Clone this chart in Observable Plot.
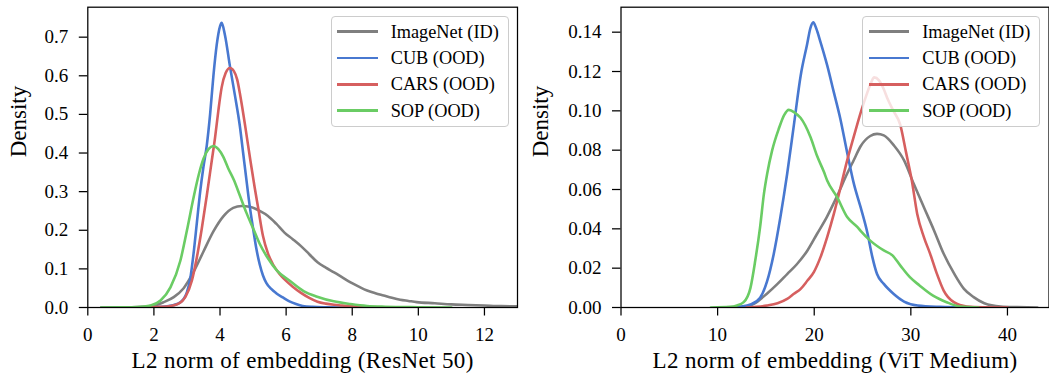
<!DOCTYPE html>
<html>
<head>
<meta charset="utf-8">
<script src="https://cdn.jsdelivr.net/npm/d3@7"></script>
<script src="https://cdn.jsdelivr.net/npm/@observablehq/plot@0.6"></script>
<style>
  html, body { margin: 0; padding: 0; background: #fff; }
  #wrap { position: relative; width: 1049px; height: 373px; overflow: hidden; font-family: "Liberation Serif", serif; }
  .panel { position: absolute; top: 0; }
  .xlab text { letter-spacing: 0.37px; }
  .legend { position: absolute; top: 16px; width: 178.3px; height: 111.3px; box-sizing: border-box;
            background: rgba(255,255,255,0.8); border: 1.2px solid #cccccc; border-radius: 4px; }
  .row { position: absolute; left: 0; height: 26.2px; width: 100%; }
  .sw { position: absolute; left: 5.6px; width: 40.7px; height: 2.7px; top: 11.75px; }
  .lab { position: absolute; left: 59px; top: 0; height: 26.2px; line-height: 26.2px; font-size: 18.3px; color: #000; white-space: nowrap; }
</style>
</head>
<body>
<div id="wrap"></div>
<script>
// ---------- data ----------
const seriesNames = ["ImageNet (ID)", "CUB (OOD)", "CARS (OOD)", "SOP (OOD)"];
const seriesColors = ["#7f7f7f", "#4878d0", "#d65f5f", "#6acc64"];

// Left panel: L2 norm of embedding (ResNet 50)
const r50ImagenetX = [0.4, 1.0, 1.5, 2.0, 2.3, 2.6, 2.9, 3.2, 3.5, 3.8, 4.1, 4.4, 4.65, 4.9, 5.2, 5.45, 5.7, 5.95, 6.2, 6.45, 6.7, 6.95, 7.2, 7.45, 7.7, 7.95, 8.2, 8.45, 8.7, 8.95, 9.2, 9.45, 9.7, 9.95, 10.5, 11.0, 11.5, 12.0, 12.5, 13.0];
const r50ImagenetD = [0, 0.0003, 0.001, 0.005, 0.014, 0.027, 0.05, 0.092, 0.145, 0.197, 0.236, 0.258, 0.263, 0.261, 0.25, 0.237, 0.217, 0.194, 0.177, 0.159, 0.138, 0.117, 0.103, 0.091, 0.078, 0.065, 0.054, 0.044, 0.037, 0.031, 0.025, 0.02, 0.017, 0.014, 0.011, 0.008, 0.0065, 0.005, 0.0035, 0.003];
const r50CubX = [0.8, 1.5, 2.0, 2.4, 2.7, 2.9, 3.0, 3.1, 3.2, 3.3, 3.4, 3.5, 3.6, 3.7, 3.8, 3.9, 4.0, 4.05, 4.15, 4.3, 4.45, 4.6, 4.7, 4.8, 4.9, 5.0, 5.1, 5.2, 5.3, 5.4, 5.55, 5.7, 5.9, 6.1, 6.3, 6.5, 6.8, 7.2, 7.8];
const r50CubD = [0, 0.0002, 0.001, 0.003, 0.009, 0.022, 0.04, 0.075, 0.14, 0.22, 0.30, 0.365, 0.42, 0.50, 0.60, 0.68, 0.728, 0.737, 0.705, 0.625, 0.55, 0.47, 0.40, 0.33, 0.262, 0.205, 0.152, 0.112, 0.083, 0.064, 0.048, 0.037, 0.026, 0.016, 0.009, 0.004, 0.0015, 0.0005, 0];
const r50CarsX = [1.0, 1.8, 2.2, 2.5, 2.75, 2.95, 3.15, 3.3, 3.45, 3.6, 3.75, 3.85, 3.95, 4.05, 4.17, 4.3, 4.42, 4.52, 4.62, 4.77, 4.92, 5.05, 5.15, 5.3, 5.45, 5.6, 5.8, 6.0, 6.2, 6.45, 6.7, 6.95, 7.2, 7.45, 7.7, 8.0, 8.5, 9.5];
const r50CarsD = [0, 0.0003, 0.0015, 0.004, 0.01, 0.027, 0.07, 0.13, 0.205, 0.29, 0.38, 0.44, 0.51, 0.57, 0.607, 0.62, 0.612, 0.59, 0.545, 0.465, 0.38, 0.31, 0.26, 0.185, 0.14, 0.112, 0.087, 0.069, 0.054, 0.038, 0.025, 0.015, 0.01, 0.007, 0.005, 0.003, 0.001, 0];
const r50SopX = [0.4, 1.0, 1.5, 1.9, 2.2, 2.5, 2.8, 3.0, 3.2, 3.36, 3.5, 3.65, 3.8, 3.95, 4.1, 4.25, 4.42, 4.6, 4.8, 5.0, 5.2, 5.43, 5.73, 6.13, 6.54, 6.94, 7.44, 7.95, 8.45, 9.0, 10.0, 11.0];
const r50SopD = [0, 0.0003, 0.001, 0.005, 0.018, 0.052, 0.121, 0.2, 0.285, 0.345, 0.385, 0.41, 0.418, 0.41, 0.39, 0.36, 0.33, 0.29, 0.245, 0.205, 0.165, 0.13, 0.095, 0.068, 0.042, 0.028, 0.016, 0.009, 0.004, 0.002, 0.0007, 0];

// Right panel: L2 norm of embedding (ViT Medium)
const vitImagenetX = [10, 12.7, 13.75, 15.1, 16.2, 17.2, 18.2, 19.3, 20.3, 21.3, 22.4, 23.4, 24.1, 24.8, 25.8, 26.5, 27.2, 28.25, 29.3, 30.3, 31.35, 32.4, 33.4, 34.5, 35.5, 36.5, 37.6, 39.3, 41, 43.1];
const vitImagenetD = [0, 0.0003, 0.0019, 0.007, 0.012, 0.017, 0.022, 0.029, 0.0375, 0.046, 0.057, 0.068, 0.075, 0.082, 0.0872, 0.0883, 0.0875, 0.0824, 0.0748, 0.0629, 0.051, 0.0392, 0.0273, 0.0171, 0.0095, 0.0053, 0.0022, 0.0005, 0.0002, 0];
const vitCubX = [11, 12.4, 13.4, 14.4, 15.1, 15.8, 16.5, 17.2, 17.9, 18.6, 19.27, 19.6, 19.9, 20.2, 20.65, 21.35, 22.0, 22.7, 23.4, 24.1, 24.8, 25.5, 26.0, 26.5, 27.2, 28.2, 29.3, 30.7, 33, 36];
const vitCubD = [0, 0.0005, 0.0015, 0.005, 0.013, 0.027, 0.046, 0.068, 0.093, 0.118, 0.134, 0.142, 0.145, 0.142, 0.135, 0.123, 0.11, 0.096, 0.079, 0.063, 0.051, 0.038, 0.026, 0.017, 0.012, 0.007, 0.003, 0.001, 0.0003, 0];
const vitCarsX = [13, 15.1, 16.2, 17.2, 17.9, 18.6, 19.3, 19.96, 20.65, 21.34, 22.03, 22.72, 23.41, 24.1, 24.8, 25.4, 25.9, 26.2, 26.7, 27.2, 27.6, 28.2, 28.9, 29.5, 30.1, 30.66, 31.35, 32.0, 32.7, 33.4, 34.45, 35.8, 37.5, 40];
const vitCarsD = [0, 0.001, 0.0022, 0.0044, 0.007, 0.0095, 0.0137, 0.018, 0.0256, 0.0358, 0.0476, 0.061, 0.0748, 0.087, 0.099, 0.108, 0.1145, 0.117, 0.1155, 0.111, 0.106, 0.1, 0.093, 0.079, 0.0646, 0.0476, 0.0358, 0.0273, 0.0171, 0.0086, 0.0027, 0.0005, 0.0001, 0];
const vitSopX = [9.3, 11.3, 12.0, 12.7, 13.4, 13.9, 14.4, 14.8, 15.13, 15.65, 16.34, 16.9, 17.37, 18.0, 18.58, 19.62, 20.3, 21.0, 21.34, 22.38, 23.41, 24.45, 24.8, 25.8, 27.2, 28.1, 28.9, 29.9, 30.9, 32.3, 33.7, 35.1, 37];
const vitSopD = [0, 0.0003, 0.001, 0.0027, 0.01, 0.024, 0.041, 0.058, 0.068, 0.08, 0.091, 0.098, 0.1005, 0.099, 0.0965, 0.0866, 0.077, 0.069, 0.0646, 0.056, 0.046, 0.041, 0.039, 0.034, 0.029, 0.0265, 0.0214, 0.0154, 0.0112, 0.006, 0.0027, 0.0005, 0];

const r50XTicks = [0, 2, 4, 6, 8, 10, 12];
const r50YTicks = [0, 0.1, 0.2, 0.3, 0.4, 0.5, 0.6, 0.7];
const vitXTicks = [0, 10, 20, 30, 40];
const vitYTicks = [0, 0.02, 0.04, 0.06, 0.08, 0.10, 0.12, 0.14];
const r50XLabel = "L2 norm of embedding (ResNet 50)";
const vitXLabel = "L2 norm of embedding (ViT Medium)";
const yLabel = "Density";

// ---------- build ----------
function toRows(pairs) {
  return pairs.flatMap(([name, xs, ds]) => xs.map((x, i) => ({name, x, d: ds[i]})));
}

function panel(o) {
  return Plot.plot({
    width: o.width, height: 373,
    marginLeft: o.marginLeft, marginRight: o.marginRight, marginTop: 6.7, marginBottom: 66,
    style: {fontFamily: "'Liberation Serif', serif", fontSize: "19px", color: "#000", background: "transparent", overflow: "visible"},
    x: {domain: o.xDomain, label: null},
    y: {domain: o.yDomain, label: null},
    color: {domain: seriesNames, range: seriesColors},
    marks: [
      Plot.line(o.rows, {x: "x", y: "d", z: "name", stroke: "name", strokeWidth: 2.6, curve: "monotone-x", clip: true}),
      Plot.frame({stroke: "#000", strokeWidth: 1.25}),
      Plot.axisX({ticks: o.xTicks, tickSize: 8.5, tickPadding: 11, strokeWidth: 1.25, label: null, tickFormat: d3.format("d")}),
      Plot.axisY({ticks: o.yTicks, tickSize: 8.5, tickPadding: 11, strokeWidth: 1.25, label: null, tickFormat: d3.format(o.yFmt)}),
      Plot.text([o.xLabel], {text: d => d, frameAnchor: "bottom", dy: 60.5, lineAnchor: "bottom", fontSize: 23, className: "xlab"}),
      Plot.text([yLabel], {text: d => d, frameAnchor: "left", dx: o.yLabelDx, rotate: -90, fontSize: 23, className: "ylab"})
    ]
  });
}

const wrap = document.getElementById("wrap");

const left = panel({
  width: 530, marginLeft: 87.3, marginRight: 13,
  xDomain: [0, 13], yDomain: [0, 0.7776], xTicks: r50XTicks, yTicks: r50YTicks, yFmt: ".1f",
  xLabel: r50XLabel, yLabelDx: -69.5,
  rows: toRows([[seriesNames[0], r50ImagenetX, r50ImagenetD], [seriesNames[1], r50CubX, r50CubD], [seriesNames[2], r50CarsX, r50CarsD], [seriesNames[3], r50SopX, r50SopD]])
});
const right = panel({
  width: 519, marginLeft: 90.5, marginRight: 0.5,
  xDomain: [0, 44.3], yDomain: [0, 0.1527], xTicks: vitXTicks, yTicks: vitYTicks, yFmt: ".2f",
  xLabel: vitXLabel, yLabelDx: -80,
  rows: toRows([[seriesNames[0], vitImagenetX, vitImagenetD], [seriesNames[1], vitCubX, vitCubD], [seriesNames[2], vitCarsX, vitCarsD], [seriesNames[3], vitSopX, vitSopD]])
});

function place(el, x) { const d = document.createElement("div"); d.className = "panel"; d.style.left = x + "px"; d.appendChild(el); wrap.appendChild(d); }
place(left, 0);
place(right, 530);

function legend(x) {
  const box = document.createElement("div");
  box.className = "legend";
  box.style.left = x + "px";
  seriesNames.forEach((n, i) => {
    const row = document.createElement("div");
    row.className = "row";
    row.style.top = (1.5 + i * 26.4) + "px";
    const sw = document.createElement("div");
    sw.className = "sw"; sw.style.background = seriesColors[i];
    const lab = document.createElement("span");
    lab.className = "lab"; lab.textContent = n;
    row.appendChild(sw); row.appendChild(lab);
    box.appendChild(row);
  });
  wrap.appendChild(box);
}
legend(330.7);
legend(862.2);
</script>
</body>
</html>
